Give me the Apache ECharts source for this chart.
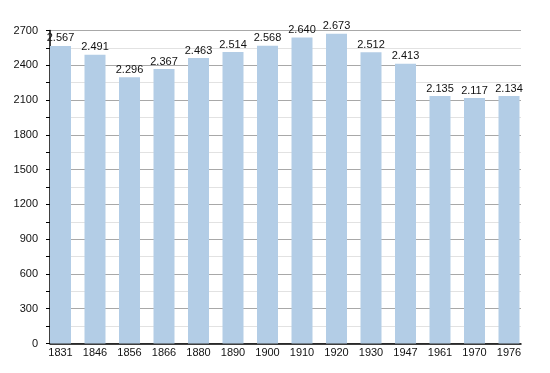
<!DOCTYPE html>
<html><head><meta charset="utf-8">
<script src="https://cdn.jsdelivr.net/npm/echarts@6/dist/echarts.min.js"></script>
<style>html,body{margin:0;padding:0;background:#fff}#c{width:550px;height:373px}</style>
</head><body><div id="c"></div>
<script>
const years = ['1831','1846','1856','1866','1880','1890','1900','1910','1920','1930','1947','1961','1970','1976'];
const population = [2567,2491,2296,2367,2463,2514,2568,2640,2673,2512,2413,2135,2117,2134];
const yMin = 0, yMax = 2700, yStep = 300;

const font = 'Liberation Sans, Arial, sans-serif';
const chart = echarts.init(document.getElementById('c'), null, {renderer:'canvas'});
chart.setOption({
  animation:false,
  backgroundColor:'#fff',
  grid:[
    {left:43.25, right:23.75, top:30.5, bottom:29.5},
    {left:50, right:29, top:30.5, bottom:29.5}
  ],
  xAxis:[
    {type:'category', gridIndex:0, data:years, boundaryGap:true, position:'bottom',
     axisLine:{show:false}, axisTick:{show:false},
     axisLabel:{color:'#111', fontFamily:font, fontSize:11, margin:4}},
    {type:'value', gridIndex:1, min:0, max:1, position:'bottom',
     axisLine:{show:true, onZero:false, lineStyle:{color:'#000', width:1.5}},
     axisTick:{show:false}, axisLabel:{show:false}, splitLine:{show:false}}
  ],
  yAxis:[
    {type:'value', gridIndex:0, min:yMin, max:yMax, interval:yStep, show:false, position:'left'},
    {type:'value', gridIndex:1, min:yMin, max:yMax, interval:yStep, position:'left',
     axisLine:{show:true, onZero:false, lineStyle:{color:'#000', width:1.5}},
     axisTick:{show:true, length:4, lineStyle:{color:'#000'}},
     minorTick:{show:true, splitNumber:2, length:4, lineStyle:{color:'#000'}},
     axisLabel:{color:'#111', fontFamily:font, fontSize:11, margin:12, formatter:v=>String(v)},
     splitLine:{show:true, lineStyle:{color:'#a8a8a8', width:1}},
     minorSplitLine:{show:true, lineStyle:{color:'#e2e2e2', width:1}}}
  ],
  series:[{
    type:'bar', xAxisIndex:0, yAxisIndex:0, data:population, barWidth:21,
    itemStyle:{color:'#b3cde6'},
    label:{show:true, position:'top', distance:2, color:'#111', fontFamily:font, fontSize:11,
      formatter:p=>String(p.value).replace(/\B(?=(\d{3})+(?!\d))/g,'.')}
  }]
});
</script></body></html>
